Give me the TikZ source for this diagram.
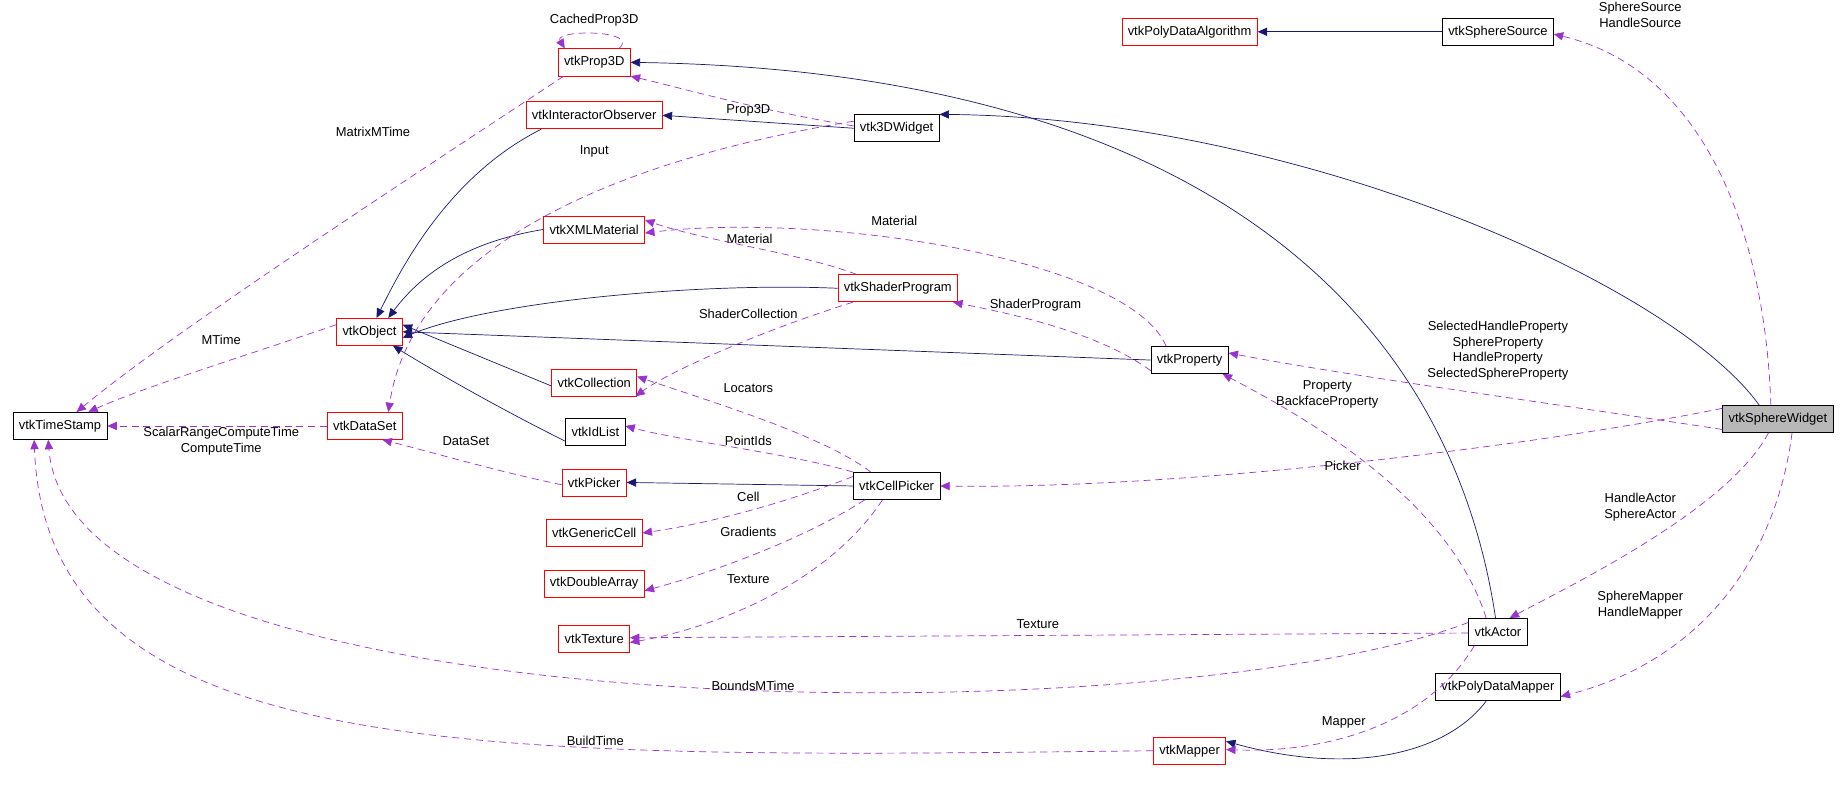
\documentclass[tikz,border=0pt]{standalone}
\usepackage{fontspec}
\setmainfont{Liberation Sans}
\usetikzlibrary{arrows.meta}
\definecolor{navy}{HTML}{191970}
\definecolor{purp}{HTML}{9A32CD}
\begin{document}
\begin{tikzpicture}[x=1pt,y=-1pt,font=\fontsize{11}{13}\selectfont,
  box/.style={draw=black,fill=white,minimum height=23pt,inner xsep=5pt,inner ysep=0pt,line width=0.6pt},
  rbox/.style={box,draw=red},
  inh/.style={draw=navy,line width=0.6pt,-{Triangle[length=8pt,width=7pt]}},
  use/.style={draw=purp,line width=0.6pt,dash pattern=on 6pt off 4pt,-{Triangle[length=8pt,width=7pt,fill=purp]}},
  lbl/.style={align=center,inner sep=0pt,font=\fontsize{11}{13.5}\selectfont}]
\useasboundingbox (0,0) rectangle (1568,676);
\node[box] (ts) at (51,362) {vtkTimeStamp};
\node[rbox] (obj) at (314,282) {vtkObject};
\node[rbox] (ds) at (310,362) {vtkDataSet};
\node[rbox] (p3d) at (505,53) {vtkProp3D};
\node[rbox] (io) at (505,98) {vtkInteractorObserver};
\node[box] (w3d) at (762,109) {vtk3DWidget};
\node[rbox] (xml) at (505,195) {vtkXMLMaterial};
\node[rbox] (sp) at (763,245) {vtkShaderProgram};
\node[rbox] (col) at (505,325) {vtkCollection};
\node[box] (idl) at (506,367) {vtkIdList};
\node[rbox] (pk) at (505,410) {vtkPicker};
\node[rbox] (gc) at (505,453) {vtkGenericCell};
\node[rbox] (da) at (505,496) {vtkDoubleArray};
\node[rbox] (tx) at (505,543) {vtkTexture};
\node[box] (prop) at (1011,306) {vtkProperty};
\node[box] (cp) at (762,413) {vtkCellPicker};
\node[rbox] (pda) at (1011,27) {vtkPolyDataAlgorithm};
\node[box] (ss) at (1273,27) {vtkSphereSource};
\node[box,fill=black!28] (sw) at (1511,356) {vtkSphereWidget};
\node[box] (act) at (1273,537) {vtkActor};
\node[box] (pdm) at (1273,584) {vtkPolyDataMapper};
\node[rbox] (map) at (1011,638) {vtkMapper};
% inheritance
\draw[inh] (ss) -- (pda);
\draw[inh] (w3d.west) -- (io.east);
\draw[inh] ([xshift=-16pt]sw.north) .. controls (1420,240) and (1100,100) .. (w3d.north east);
\draw[inh] ([xshift=-2pt]act.north) .. controls (1230,250) and (1000,60) .. (p3d.east);
\draw[inh] ([xshift=-45pt]io.south) .. controls (380,150) and (340,230) .. ([xshift=6pt]obj.north);
\draw[inh] (xml.west) .. controls (400,205) and (360,230) .. ([xshift=16pt]obj.north);
\draw[inh] (sp.west) .. controls (600,240) and (420,255) .. ([yshift=-5pt]obj.east);
\draw[inh] (prop.west) -- (obj.east);
\draw[inh] ([yshift=-3pt]col.west) -- ([yshift=6pt]obj.east);
\draw[inh] ([yshift=-8pt]idl.west) .. controls (420,345) and (360,310) .. ([xshift=20pt]obj.south);
\draw[inh] (cp.west) -- (pk.east);
\draw[inh] ([xshift=-10pt]pdm.south) .. controls (1230,640) and (1150,660) .. ([yshift=8pt]map.east);
% usage
\draw[use] ([xshift=-10pt]p3d.north east) .. controls (545,25) and (470,25) .. ([xshift=6pt]p3d.north west);
\node[lbl] at (505,17) {CachedProp3D};
\draw[use] ([xshift=5pt]p3d.south west) .. controls (350,150) and (150,280) .. ([xshift=14pt]ts.north);
\node[lbl] at (317,112) {MatrixMTime};
\draw[use] ([yshift=2pt]w3d.west) .. controls (650,95) and (580,75) .. (p3d.south east);
\node[lbl] at (636,94) {Prop3D};
\draw[use] ([yshift=6pt]w3d.west) .. controls (500,140) and (350,220) .. ([xshift=20pt]ds.north);
\node[lbl] at (505,129) {Input};
\draw[use] ([xshift=-20pt]prop.north) .. controls (960,220) and (700,180) .. ([yshift=-3pt]xml.east);
\node[lbl] at (760,188) {Material};
\draw[use] ([xshift=-35pt]sp.north) .. controls (680,215) and (600,205) .. ([yshift=8pt]xml.east);
\node[lbl] at (637,203) {Material};
\draw[use] ([yshift=-9pt]prop.west) .. controls (930,280) and (850,265) .. ([xshift=47pt]sp.south);
\node[lbl] at (880,259) {ShaderProgram};
\draw[use] ([yshift=6pt]obj.west) .. controls (200,305) and (120,330) .. ([xshift=24pt]ts.north);
\node[lbl] at (188,289) {MTime};
\draw[use] ([xshift=-38pt]sp.south) .. controls (650,280) and (570,315) .. ([xshift=35pt]col.south);
\node[lbl] at (636,267) {ShaderCollection};
\draw[use] ([xshift=-22pt]cp.north) .. controls (700,370) and (600,340) .. ([yshift=5pt]col.east);
\node[lbl] at (636,330) {Locators};
\draw[use] (ds.west) -- (ts.east);
\node[lbl] at (188,375) {ScalarRangeComputeTime\\ComputeTime};
\draw[use] ([yshift=-2pt]pk.west) .. controls (420,400) and (370,385) .. ([xshift=15pt]ds.south);
\node[lbl] at (396,375) {DataSet};
\draw[use] ([xshift=-37pt]cp.north) .. controls (670,385) and (580,375) .. ([yshift=5pt]idl.east);
\node[lbl] at (636,375) {PointIds};
\draw[use] ([yshift=8pt]cp.west) .. controls (660,430) and (600,445) .. (gc.east);
\node[lbl] at (636,422) {Cell};
\draw[use] ([xshift=-27pt]cp.south) .. controls (680,460) and (600,488) .. ([yshift=-6pt]da.east);
\node[lbl] at (636,452) {Gradients};
\draw[use] ([xshift=-12pt]cp.south) .. controls (700,500) and (600,535) .. ([yshift=-3pt]tx.east);
\node[lbl] at (636,492) {Texture};
\draw[use] ([xshift=-6pt]sw.north) .. controls (1500,200) and (1450,60) .. ([yshift=-2pt]ss.east);
\node[lbl] at (1394,13) {SphereSource\\HandleSource};
\draw[use] ([yshift=-9pt]sw.west) .. controls (1300,340) and (1150,320) .. ([yshift=6pt]prop.east);
\node[lbl] at (1273,298) {SelectedHandleProperty\\SphereProperty\\HandleProperty\\SelectedSphereProperty};
\draw[use] ([xshift=-10pt]act.north) .. controls (1230,420) and (1100,350) .. ([xshift=28pt]prop.south);
\node[lbl] at (1128,335) {Property\\BackfaceProperty};
\draw[use] ([yshift=9pt]sw.west) .. controls (1300,380) and (1000,416) .. (cp.east);
\node[lbl] at (1141,396) {Picker};
\draw[use] ([xshift=-8pt]sw.south) .. controls (1470,430) and (1350,490) .. ([xshift=10pt]act.north);
\node[lbl] at (1394,431) {HandleActor\\SphereActor};
\draw[use] ([xshift=12pt]sw.south) .. controls (1510,470) and (1450,560) .. ([yshift=-8pt]pdm.east);
\node[lbl] at (1394,514) {SphereMapper\\HandleMapper};
\draw[use] ([yshift=-1pt]act.west) -- ([yshift=1pt]tx.east);
\node[lbl] at (882,530) {Texture};
\draw[use] ([yshift=8pt]act.west) .. controls (1000,625) and (60,625) .. ([xshift=-10pt]ts.south);
\node[lbl] at (640,583) {BoundsMTime};
\draw[use] ([xshift=-20pt]act.south) .. controls (1210,620) and (1120,640) .. ([yshift=1pt]map.east);
\node[lbl] at (1142,614) {Mapper};
\draw[use] (map.west) .. controls (400,645) and (40,650) .. ([xshift=-22pt]ts.south);
\node[lbl] at (506,630) {BuildTime};
\end{tikzpicture}
\end{document}
